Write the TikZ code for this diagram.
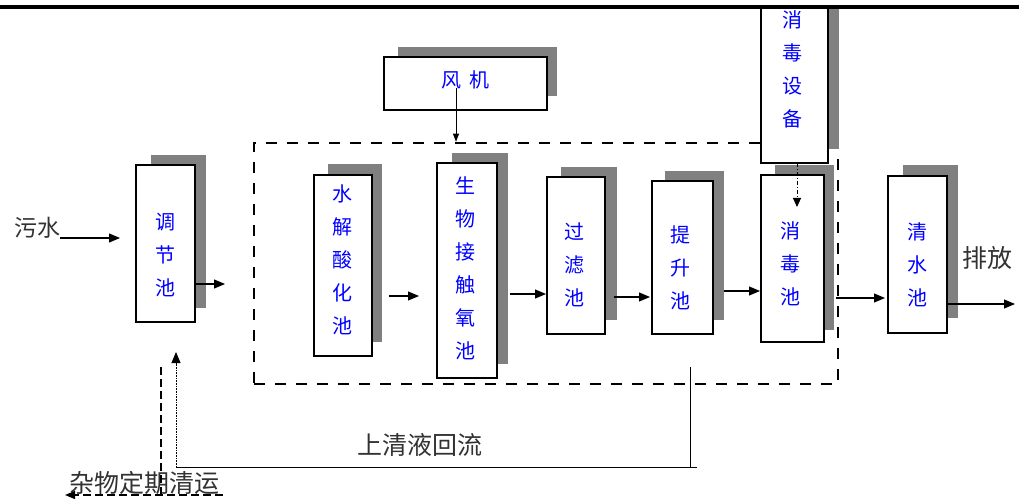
\documentclass[tikz,border=0pt]{standalone}
\usepackage{fontspec}
\newfontfamily\cjk{Noto Sans CJK SC}
\usetikzlibrary{arrows.meta,fit,calc}
\definecolor{shd}{RGB}{128,128,128}
\definecolor{txtblue}{RGB}{0,0,255}
\definecolor{lblgray}{RGB}{50,50,50}
\tikzset{
  box/.style={draw, line width=1.1pt, fill=white, inner sep=0pt, outer sep=0pt},
  shadowbox/.style={fill=shd},
  intext/.style={text=txtblue, align=center, inner sep=0pt, font=\cjk\fontsize{20}{33}\selectfont},
  outtext/.style={text=lblgray, inner sep=0pt, font=\cjk\fontsize{25}{28}\selectfont},
  arr/.style={line width=1.1pt, -{Triangle[length=11pt,width=9pt]}},
  arrsmall/.style={line width=1pt, -{Triangle[length=8pt,width=6pt]}},
  dashedframe/.style={draw, line width=2.6pt, dash pattern=on 11pt off 10pt, inner sep=0pt},
}
\newcommand\pool[9]{%
  \fill[shadowbox] (#6,#7) rectangle (#8,#9);
  \node[box, fit={(#2,#3) (#4,#5)}] (#1) {};
}
\begin{document}
\begin{tikzpicture}[x=1pt,y=-1pt]
\useasboundingbox (0,0) rectangle (1019,502);
% dashed frame
\node[dashedframe, fit={(254,143) (838,384)}] (dr) {};
% pools
\pool{tj}{136}{165}{195}{322}{151}{155}{206}{308}
\pool{fj}{384}{57}{547}{110}{398}{47}{557}{96}
\pool{sj}{314}{175}{372}{356}{328}{164}{382}{342}
\pool{sw}{437}{163}{497}{378}{452}{153}{508}{364}
\pool{gl}{547}{177}{605}{334}{561}{167}{617}{320}
\pool{ts}{652}{181}{713}{334}{665}{171}{724}{320}
\pool{xs}{761}{7}{828}{163}{777}{7}{839}{149}
\pool{xd}{761}{175}{824}{342}{775}{165}{834}{330}
\pool{qs}{888}{176}{947}{333}{903}{165}{958}{318}
% texts inside boxes
\node[intext] (tjt) at (165,255) {调\\节\\池};
\node[intext] (fjt) at (465,80) {风\hspace{8pt}机};
\node[intext] (sjt) at (342,260) {水\\解\\酸\\化\\池};
\node[intext] (swt) at (465,268) {生\\物\\接\\触\\氧\\池};
\node[intext] (glt) at (574,265) {过\\滤\\池};
\node[intext] (tst) at (680,268) {提\\升\\池};
\node[intext] (xst) at (792,69) {消\\毒\\设\\备};
\node[intext] (xdt) at (790,264) {消\\毒\\池};
\node[intext] (qst) at (917,265) {清\\水\\池};
% outside labels
\node[outtext, font=\cjk\fontsize{23}{26}\selectfont] (ws) at (37,228) {污水};
\node[outtext] (pf) at (987,258) {排放};
\node[outtext] (hl) at (420,445) {上清液回流};
\node[outtext] (zw) at (144,483) {杂物定期清运};
% coordinates for free ends
\coordinate (tjo) at (225,284);
\coordinate (qso) at (1015,304);
\coordinate (xdin) at (797,207);
\coordinate (r1) at (690,367);
\coordinate (r2) at (690,467);
\coordinate (r3) at (176,467);
\coordinate (r4) at (697,467);
\coordinate (z1) at (161,367);
\coordinate (z2) at (161,495);
\coordinate (z3) at (223,495);
\coordinate (z4) at (65,495);
% flow arrows
\draw[arr] (ws.east |- 0,238) -- (tj.west |- 0,238) [shorten >=16pt];
\draw[arr] (tj.east |- tjo) -- (tjo);
\draw[arr, shorten <=17pt, shorten >=18pt] (sj.east |- 0,296) -- (sw.west |- 0,296);
\draw[arr, shorten <=13pt, shorten >=1pt] (sw.east |- 0,294) -- (gl.west |- 0,294);
\draw[arr, shorten <=9pt, shorten >=2pt] (gl.east |- 0,297) -- (ts.west |- 0,297);
\draw[arr, shorten <=11pt, shorten >=1pt] (ts.east |- 0,291) -- (xd.west |- 0,291);
\draw[arr, shorten <=12pt, shorten >=3pt] (xd.east |- 0,298) -- (qs.west |- 0,298);
\draw[arr] (qs.east |- qso) -- (qso);
% blower
\draw[arrsmall] ($(fj.center)+(-9.5,5)$) -- (dr.north -| 456,0);
% disinfection equipment
\draw[line width=1pt, dash pattern=on 4pt off 2pt on 1pt off 2pt, -{Triangle[length=9pt,width=8pt]}] (xs.south -| xdin) -- (xdin);
% return flow
\draw[line width=1pt] (r1) -- (r2);
\draw[line width=1pt] (r4) -- (r3);
\draw[line width=1pt, dash pattern=on 1pt off 0.6pt, shorten >=30pt, -{Triangle[length=11pt,width=9pt]}] (r3) -- (tj.south -| r3);
% debris removal
\draw[line width=1.2pt, dash pattern=on 8pt off 4pt] (z1) -- (z2);
\draw[line width=1.2pt, dash pattern=on 8pt off 4pt, -{Triangle[length=10pt,width=8pt]}] (z3) -- (z4);
% top rule
\draw[line width=3.5pt] (0,6.8) -- (1019,6.8);
\end{tikzpicture}
\end{document}
